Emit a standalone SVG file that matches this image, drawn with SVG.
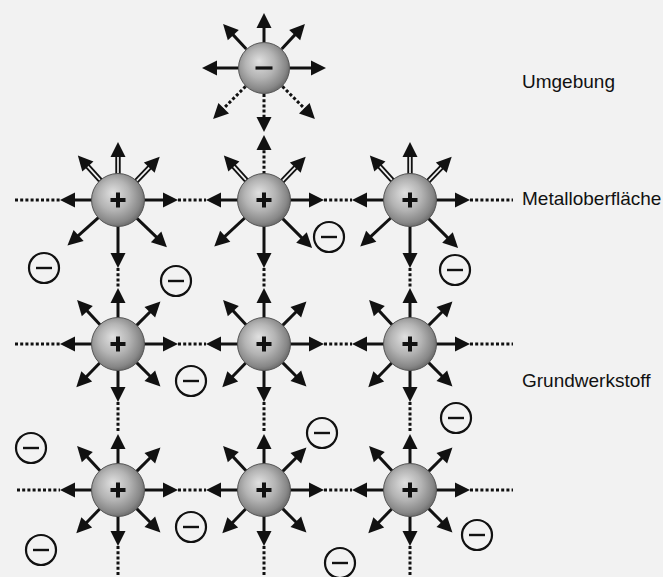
<svg xmlns="http://www.w3.org/2000/svg" xmlns:xlink="http://www.w3.org/1999/xlink" width="663" height="577" viewBox="0 0 663 577">
  <style>
    .shaft { stroke: #111; stroke-width: 3; fill: none; }
    .hollow { stroke: #111; stroke-width: 5.4; fill: none; }
    .hollow-in { stroke: #f2f2f2; stroke-width: 1.7; fill: none; }
    .dots { stroke: #111; stroke-width: 3; stroke-dasharray: 3 2.2; fill: none; }
    .head { fill: #111; stroke: none; }
    .ball { fill: url(#sphere); stroke: #555; stroke-width: 1; }
    .sign { fill: #111; }
    .ering { fill: none; stroke: #111; stroke-width: 2.2; }
    .ebar { stroke: #111; stroke-width: 2.4; }
    .label { font-family: "Liberation Sans", Arial, sans-serif; font-size: 19px; fill: #111; }
  </style>
  <defs>
    <radialGradient id="sphere" cx="0.45" cy="0.45" r="0.58" fx="0.4" fy="0.36">
      <stop offset="0" stop-color="#e0e0e0"/>
      <stop offset="0.5" stop-color="#b4b4b4"/>
      <stop offset="0.85" stop-color="#878787"/>
      <stop offset="1" stop-color="#666"/>
    </radialGradient>
    <!-- arrow templates pointing along +x, starting at the ball rim (r=26); the number is the tip distance -->
    <g id="s55"><line class="shaft" x1="26" y1="0" x2="43" y2="0"/><path class="head" d="M55,0 L40,-7.5 L40,7.5 Z"/></g>
    <g id="s56"><line class="shaft" x1="26" y1="0" x2="44" y2="0"/><path class="head" d="M56,0 L41,-7.5 L41,7.5 Z"/></g>
    <g id="s58"><line class="shaft" x1="26" y1="0" x2="46" y2="0"/><path class="head" d="M58,0 L43,-7.5 L43,7.5 Z"/></g>
    <g id="s60"><line class="shaft" x1="26" y1="0" x2="48" y2="0"/><path class="head" d="M60,0 L45,-7.5 L45,7.5 Z"/></g>
    <g id="s62"><line class="shaft" x1="26" y1="0" x2="50" y2="0"/><path class="head" d="M62,0 L47,-7.5 L47,7.5 Z"/></g>
    <g id="s68"><line class="shaft" x1="26" y1="0" x2="56" y2="0"/><path class="head" d="M68,0 L53,-7.5 L53,7.5 Z"/></g>
    <g id="w58"><line class="hollow" x1="26" y1="0" x2="45" y2="0"/><line class="hollow-in" x1="27" y1="0" x2="44" y2="0"/><path class="head" d="M58,0 L43,-7.5 L43,7.5 Z"/></g>
    <g id="w60"><line class="hollow" x1="26" y1="0" x2="47" y2="0"/><line class="hollow-in" x1="27" y1="0" x2="46" y2="0"/><path class="head" d="M60,0 L45,-7.5 L45,7.5 Z"/></g>
    <g id="d64"><line class="dots" x1="26" y1="0" x2="52" y2="0"/><path class="head" d="M64,0 L49,-7.5 L49,7.5 Z"/></g>
    <g id="d65"><line class="dots" x1="26" y1="0" x2="53" y2="0"/><path class="head" d="M65,0 L50,-7.5 L50,7.5 Z"/></g>
    <g id="d72"><line class="dots" x1="26" y1="0" x2="60" y2="0"/><path class="head" d="M72,0 L57,-7.5 L57,7.5 Z"/></g>
    <!-- metal ion: ball with plus -->
    <g id="cation">
      <circle class="ball" r="26.5"/>
      <rect class="sign" x="-7.5" y="-2" width="15" height="4"/>
      <rect class="sign" x="-2" y="-7.5" width="4" height="15"/>
    </g>
    <!-- free electron -->
    <g id="electron">
      <circle class="ering" r="15"/>
      <line class="ebar" x1="-8" y1="0" x2="8" y2="0"/>
    </g>
  </defs>

  <rect x="0" y="0" width="663" height="577" fill="#f2f2f2"/>

  <!-- dotted lattice bonds -->
  <g id="connectors">
    <line class="dots" x1="15" y1="200" x2="60" y2="200"/>
    <line class="dots" x1="178" y1="200" x2="206" y2="200"/>
    <line class="dots" x1="324" y1="200" x2="352" y2="200"/>
    <line class="dots" x1="470" y1="200" x2="513" y2="200"/>
    <line class="dots" x1="15" y1="344" x2="60" y2="344"/>
    <line class="dots" x1="178" y1="344" x2="206" y2="344"/>
    <line class="dots" x1="324" y1="344" x2="352" y2="344"/>
    <line class="dots" x1="470" y1="344" x2="513" y2="344"/>
    <line class="dots" x1="17" y1="490" x2="60" y2="490"/>
    <line class="dots" x1="178" y1="490" x2="206" y2="490"/>
    <line class="dots" x1="324" y1="490" x2="352" y2="490"/>
    <line class="dots" x1="470" y1="490" x2="513" y2="490"/>
    <line class="dots" x1="118" y1="268" x2="118" y2="288"/>
    <line class="dots" x1="264" y1="268" x2="264" y2="288"/>
    <line class="dots" x1="410" y1="268" x2="410" y2="288"/>
    <line class="dots" x1="118" y1="402" x2="118" y2="433"/>
    <line class="dots" x1="264" y1="402" x2="264" y2="433"/>
    <line class="dots" x1="410" y1="402" x2="410" y2="433"/>
    <line class="dots" x1="118" y1="546" x2="118" y2="577"/>
    <line class="dots" x1="264" y1="546" x2="264" y2="577"/>
    <line class="dots" x1="410" y1="546" x2="410" y2="577"/>
  </g>

  <!-- anion in the surroundings -->
  <g id="anion" transform="translate(264,68)">
    <use href="#s55" transform="rotate(-90)"/>
    <use href="#s60" transform="rotate(-133)"/>
    <use href="#s60" transform="rotate(-47)"/>
    <use href="#s62" transform="rotate(180)"/>
    <use href="#s62"/>
    <use href="#d72" transform="rotate(135)"/>
    <use href="#d72" transform="rotate(45)"/>
    <use href="#d64" transform="rotate(90)"/>
    <circle class="ball" r="25.5"/>
    <rect class="sign" x="-8.5" y="-1.6" width="17" height="3.2"/>
  </g>

  <!-- surface row -->
  <g id="ion-1-1" transform="translate(118,200)">
    <use href="#w58" transform="rotate(-90)"/>
    <use href="#w60" transform="rotate(-132)"/>
    <use href="#w60" transform="rotate(-46)"/>
    <use href="#s58" transform="rotate(180)"/>
    <use href="#s60"/>
    <use href="#s68" transform="rotate(90)"/>
    <use href="#s68" transform="rotate(138)"/>
    <use href="#s68" transform="rotate(44)"/>
    <use href="#cation"/>
  </g>
  <g id="ion-1-2" transform="translate(264,200)">
    <use href="#d65" transform="rotate(-90)"/>
    <use href="#w60" transform="rotate(-132)"/>
    <use href="#w60" transform="rotate(-46)"/>
    <use href="#s58" transform="rotate(180)"/>
    <use href="#s60"/>
    <use href="#s68" transform="rotate(90)"/>
    <use href="#s68" transform="rotate(137)"/>
    <use href="#s68" transform="rotate(45)"/>
    <use href="#cation"/>
  </g>
  <g id="ion-1-3" transform="translate(410,200)">
    <use href="#w58" transform="rotate(-90)"/>
    <use href="#w60" transform="rotate(-132)"/>
    <use href="#w60" transform="rotate(-46)"/>
    <use href="#s58" transform="rotate(180)"/>
    <use href="#s60"/>
    <use href="#s68" transform="rotate(90)"/>
    <use href="#s68" transform="rotate(137)"/>
    <use href="#s68" transform="rotate(45)"/>
    <use href="#cation"/>
  </g>

  <!-- bulk, middle row -->
  <g id="ion-2-1" transform="translate(118,344)">
    <use href="#s56" transform="rotate(-90)"/>
    <use href="#s60" transform="rotate(-133)"/>
    <use href="#s60" transform="rotate(-45)"/>
    <use href="#s58" transform="rotate(180)"/>
    <use href="#s60"/>
    <use href="#s58" transform="rotate(90)"/>
    <use href="#s60" transform="rotate(134)"/>
    <use href="#s60" transform="rotate(45)"/>
    <use href="#cation"/>
  </g>
  <g id="ion-2-2" transform="translate(264,344)">
    <use href="#s56" transform="rotate(-90)"/>
    <use href="#s60" transform="rotate(-133)"/>
    <use href="#s60" transform="rotate(-45)"/>
    <use href="#s58" transform="rotate(180)"/>
    <use href="#s60"/>
    <use href="#s58" transform="rotate(90)"/>
    <use href="#s60" transform="rotate(134)"/>
    <use href="#s60" transform="rotate(45)"/>
    <use href="#cation"/>
  </g>
  <g id="ion-2-3" transform="translate(410,344)">
    <use href="#s56" transform="rotate(-90)"/>
    <use href="#s60" transform="rotate(-133)"/>
    <use href="#s60" transform="rotate(-45)"/>
    <use href="#s58" transform="rotate(180)"/>
    <use href="#s60"/>
    <use href="#s58" transform="rotate(90)"/>
    <use href="#s60" transform="rotate(134)"/>
    <use href="#s60" transform="rotate(45)"/>
    <use href="#cation"/>
  </g>

  <!-- bulk, bottom row -->
  <g id="ion-3-1" transform="translate(118,490)">
    <use href="#s56" transform="rotate(-90)"/>
    <use href="#s60" transform="rotate(-133)"/>
    <use href="#s60" transform="rotate(-45)"/>
    <use href="#s58" transform="rotate(180)"/>
    <use href="#s60"/>
    <use href="#s56" transform="rotate(90)"/>
    <use href="#s60" transform="rotate(134)"/>
    <use href="#s60" transform="rotate(45)"/>
    <use href="#cation"/>
  </g>
  <g id="ion-3-2" transform="translate(264,490)">
    <use href="#s56" transform="rotate(-90)"/>
    <use href="#s60" transform="rotate(-133)"/>
    <use href="#s60" transform="rotate(-45)"/>
    <use href="#s58" transform="rotate(180)"/>
    <use href="#s60"/>
    <use href="#s56" transform="rotate(90)"/>
    <use href="#s60" transform="rotate(134)"/>
    <use href="#s60" transform="rotate(45)"/>
    <use href="#cation"/>
  </g>
  <g id="ion-3-3" transform="translate(410,490)">
    <use href="#s56" transform="rotate(-90)"/>
    <use href="#s60" transform="rotate(-133)"/>
    <use href="#s60" transform="rotate(-45)"/>
    <use href="#s58" transform="rotate(180)"/>
    <use href="#s60"/>
    <use href="#s56" transform="rotate(90)"/>
    <use href="#s60" transform="rotate(134)"/>
    <use href="#s60" transform="rotate(45)"/>
    <use href="#cation"/>
  </g>

  <!-- free electrons -->
  <g id="e01" transform="translate(329,237)"><use href="#electron"/></g>
  <g id="e02" transform="translate(44,268)"><use href="#electron"/></g>
  <g id="e03" transform="translate(176,281)"><use href="#electron"/></g>
  <g id="e04" transform="translate(455,270)"><use href="#electron"/></g>
  <g id="e05" transform="translate(191,381)"><use href="#electron"/></g>
  <g id="e06" transform="translate(456,418)"><use href="#electron"/></g>
  <g id="e07" transform="translate(31,448)"><use href="#electron"/></g>
  <g id="e08" transform="translate(322,433)"><use href="#electron"/></g>
  <g id="e09" transform="translate(191,527)"><use href="#electron"/></g>
  <g id="e10" transform="translate(477,535)"><use href="#electron"/></g>
  <g id="e11" transform="translate(41,550)"><use href="#electron"/></g>
  <g id="e12" transform="translate(340,563)"><use href="#electron"/></g>

  <!-- region labels -->
  <g id="labels">
    <text class="label" x="522" y="88">Umgebung</text>
    <text class="label" x="522" y="205">Metalloberfläche</text>
    <text class="label" x="522" y="387">Grundwerkstoff</text>
  </g>
</svg>
